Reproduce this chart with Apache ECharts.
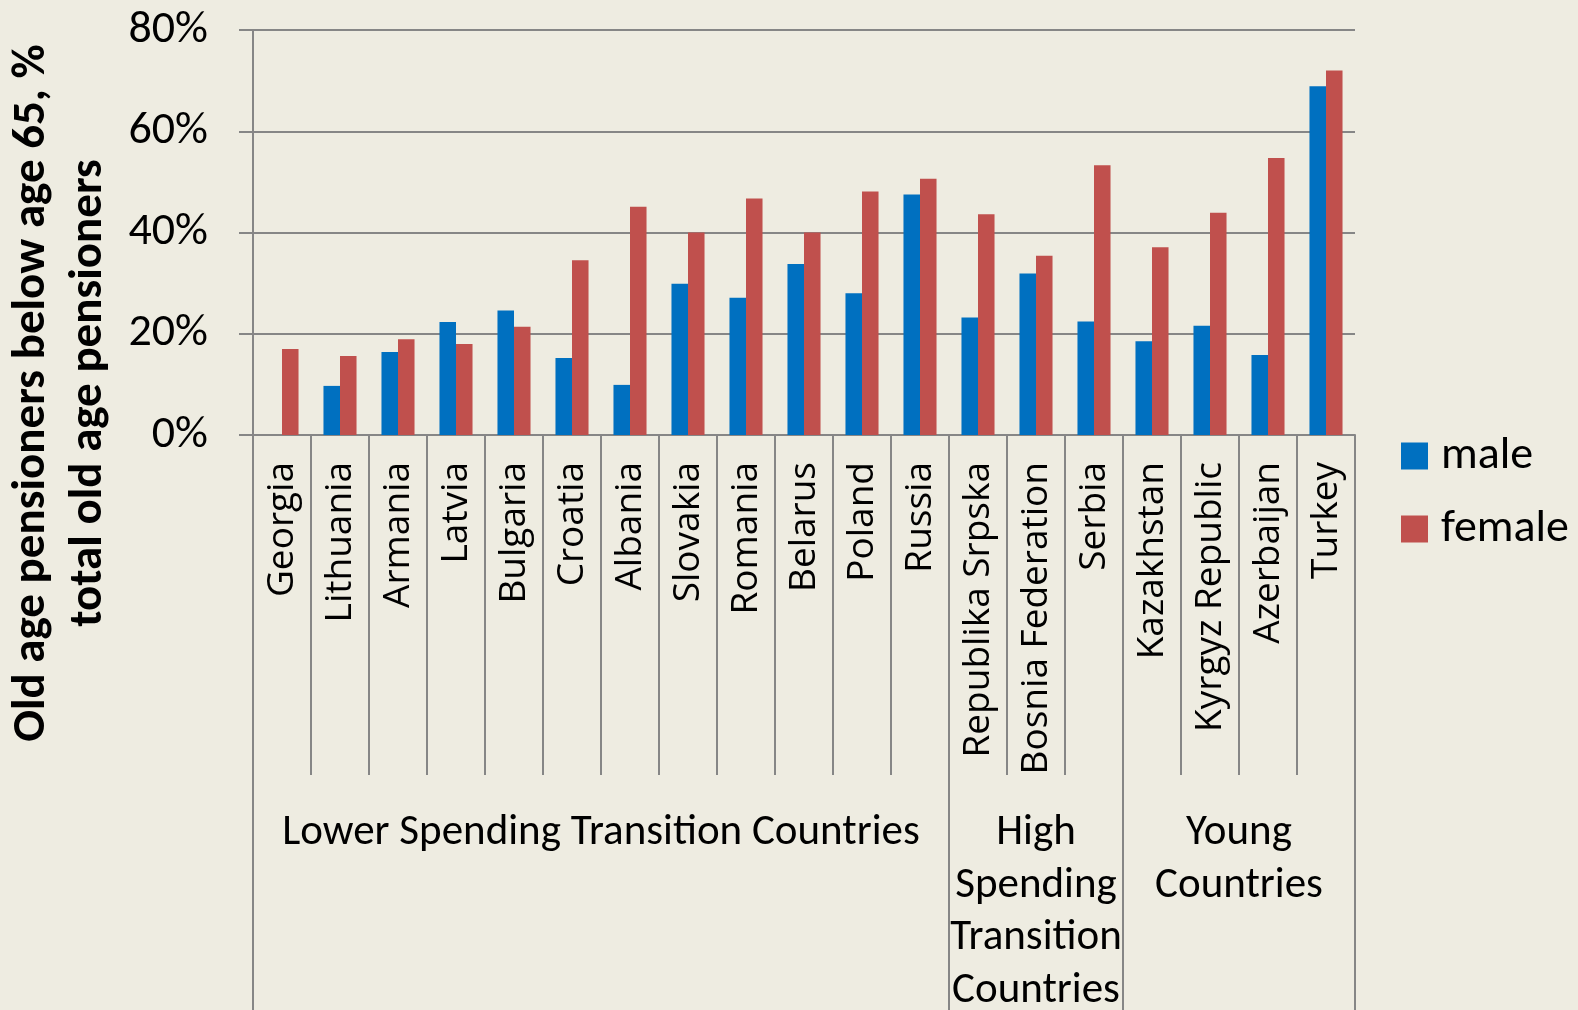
<!DOCTYPE html>
<html>
<head>
<meta charset="utf-8">
<title>Old age pensioners below age 65</title>
<script src="https://cdn.jsdelivr.net/npm/echarts@6/dist/echarts.min.js"></script>
<style>
  html, body { margin: 0; padding: 0; background: #EEECE1; }
  #main { width: 1578px; height: 1010px; }
</style>
</head>
<body>
<div id="main"></div>
<script>
// data (%)
var countries = ['Georgia', 'Lithuania', 'Armania', 'Latvia', 'Bulgaria', 'Croatia', 'Albania',
  'Slovakia', 'Romania', 'Belarus', 'Poland', 'Russia', 'Republika Srpska', 'Bosnia Federation',
  'Serbia', 'Kazakhstan', 'Kyrgyz Republic', 'Azerbaijan', 'Turkey'];
var male = [null, 9.7, 16.4, 22.3, 24.6, 15.2, 9.9, 29.9, 27.1, 33.8, 28.0, 47.5, 23.2, 31.9,
  22.4, 18.5, 21.6, 15.8, 68.9];
var female = [17.0, 15.6, 18.9, 18.0, 21.4, 34.5, 45.1, 40.0, 46.7, 40.0, 48.1, 50.6, 43.6, 35.4,
  53.3, 37.1, 43.9, 54.7, 72.0];
var groupNames = ['Lower Spending Transition Countries', 'High\nSpending\nTransition\nCountries', 'Young\nCountries'];
var groupSizes = [12, 3, 4];
var yName = 'Old age pensioners below age 65, %\ntotal old age pensioners';

var gray = '#868686';
var chart = echarts.init(document.getElementById('main'));

var option = {
  backgroundColor: '#EEECE1',
  animation: false,
  textStyle: { fontFamily: 'Carlito, Lato, sans-serif', color: '#000' },
  grid: { left: 253, right: 223, top: 30, bottom: 575 },
  legend: {
    orient: 'vertical',
    left: 1396,
    top: 428,
    itemWidth: 27,
    itemHeight: 27,
    itemGap: 27,
    icon: 'rect',
    textStyle: { fontSize: 46, lineHeight: 46, color: '#000', padding: [0, 0, 0, 8] },
    data: ['male', 'female']
  },
  xAxis: {
    type: 'category',
    data: countries,
    axisLine: { lineStyle: { color: gray, width: 2 } },
    axisTick: { show: true, interval: 0, length: 340, lineStyle: { color: gray, width: 2 } },
    axisLabel: {
      interval: 0,
      rotate: 90,
      margin: 27,
      fontSize: 37,
      fontFamily: '"Open Sans", sans-serif',
      color: '#000'
    }
  },
  yAxis: {
    type: 'value',
    min: 0,
    max: 80,
    interval: 20,
    axisLine: { show: true, lineStyle: { color: gray, width: 2 } },
    axisTick: { show: true, length: 14, lineStyle: { color: gray, width: 2 } },
    splitLine: { lineStyle: { color: gray, width: 2 } },
    axisLabel: { formatter: '{value}%', fontSize: 46, margin: 45, color: '#000' }
  },
  series: [
    {
      name: 'male',
      type: 'bar',
      data: male,
      barGap: '0%',
      barCategoryGap: '43%',
      itemStyle: { color: '#0070C0' }
    },
    {
      name: 'female',
      type: 'bar',
      data: female,
      itemStyle: { color: '#C0504D' }
    }
  ]
};
chart.setOption(option);

// second level of the category axis: group separators and group names
var c0 = chart.convertToPixel({ xAxisIndex: 0 }, countries[0]);
var c1 = chart.convertToPixel({ xAxisIndex: 0 }, countries[1]);
var band = c1 - c0;
var axisY = chart.convertToPixel({ yAxisIndex: 0 }, 0);
function edge(i) { return c0 - band / 2 + i * band; }

var elements = [];
var start = 0;
for (var g = 0; g <= groupSizes.length; g++) {
  elements.push({
    type: 'line',
    shape: { x1: edge(start), y1: axisY, x2: edge(start), y2: 1010 },
    style: { stroke: gray, lineWidth: 2 }
  });
  if (g < groupSizes.length) {
    var end = start + groupSizes[g];
    elements.push({
      type: 'text',
      x: (edge(start) + edge(end)) / 2,
      y: 807,
      style: {
        text: groupNames[g],
        font: '43px Carlito, Lato, sans-serif',
        lineHeight: 52.5,
        fill: '#000',
        textAlign: 'center',
        textVerticalAlign: 'top'
      }
    });
    start = end;
  }
}
// axis title, rotated
elements.push({
  type: 'text',
  x: 61,
  y: 393,
  rotation: Math.PI / 2,
  style: {
    text: yName,
    font: 'bold 47px Carlito, Lato, sans-serif',
    lineHeight: 57,
    fill: '#000',
    textAlign: 'center',
    textVerticalAlign: 'middle'
  }
});
chart.setOption({ graphic: { elements: elements } });
</script>
</body>
</html>
